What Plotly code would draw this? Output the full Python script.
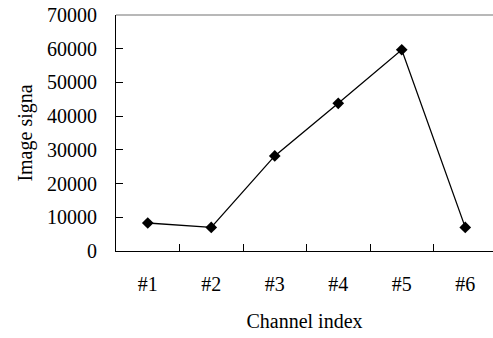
import plotly.graph_objects as go

categories = ["#1", "#2", "#3", "#4", "#5", "#6"]
signal = [8300, 7000, 28200, 43800, 59700, 7000]
y_ticks = [0, 10000, 20000, 30000, 40000, 50000, 60000, 70000]

xpos = list(range(1, len(categories) + 1))
FONT = "Liberation Serif, Times New Roman, serif"

fig = go.Figure()
fig.add_trace(go.Scatter(
    x=xpos, y=signal, mode="lines+markers",
    line=dict(color="black", width=1.3),
    marker=dict(symbol="diamond", size=9, color="black"),
    showlegend=False,
))

fig.update_layout(
    width=493, height=338,
    margin=dict(l=116, r=0, t=15, b=87),
    paper_bgcolor="white", plot_bgcolor="white",
    font=dict(family=FONT, size=20, color="black"),
    xaxis=dict(
        range=[0.5, 6.437],
        tickmode="array", tickvals=xpos, ticktext=categories,
        ticks="", showgrid=False, zeroline=False,
        showline=True, linecolor="black", linewidth=1,
        ticklabelstandoff=15,
        minor=dict(tickmode="array", tickvals=[1.5, 2.5, 3.5, 4.5, 5.5],
                   ticks="inside", ticklen=7, tickcolor="black", tickwidth=1, showgrid=False),
        title=dict(text="Channel index", standoff=19, font=dict(size=20)),
    ),
    yaxis=dict(
        range=[0, 70000],
        tickmode="array", tickvals=y_ticks, ticktext=[str(v) for v in y_ticks],
        ticks="inside", ticklen=7, tickcolor="black", tickwidth=1,
        showgrid=False, zeroline=False,
        showline=True, linecolor="black", linewidth=1,
        ticklabelstandoff=14,
        title=dict(text="Image signa", standoff=9, font=dict(size=20)),
    ),
    shapes=[dict(type="line", xref="paper", yref="paper", x0=0, x1=1, y0=1, y1=1,
                 line=dict(color="#a0a0a0", width=1.5))],
)

fig.write_html("out.html")
